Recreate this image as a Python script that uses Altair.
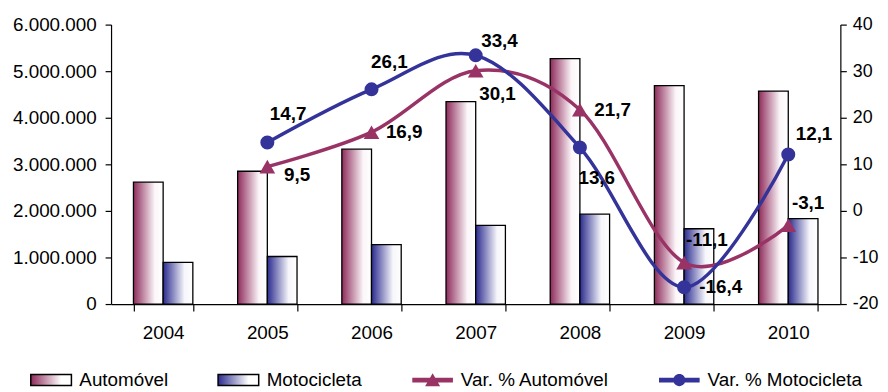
import altair as alt
import pandas as pd

# ---------------- data ----------------
anos = ["2004", "2005", "2006", "2007", "2008", "2009", "2010"]
automovel = [2617000, 2851000, 3326000, 4347000, 5270000, 4688000, 4574000]
motocicleta = [894000, 1021000, 1277000, 1688000, 1930000, 1617000, 1835000]
var_automovel = [None, 9.5, 16.9, 30.1, 21.7, -11.1, -3.1]
var_motocicleta = [None, 14.7, 26.1, 33.4, 13.6, -16.4, 12.1]

serie_bar = ["Automóvel", "Motocicleta"]
serie_var = ["Var. % Automóvel", "Var. % Motocicleta"]
legend_names = serie_bar + serie_var

y_left_ticks = [0, 1000000, 2000000, 3000000, 4000000, 5000000, 6000000]
y_right_ticks = [-20, -10, 0, 10, 20, 30, 40]

# ---------------- tables ----------------
bar_rows = []
for i, a in enumerate(anos):
    bar_rows.append({"ano": a, "serie": serie_bar[0], "valor": automovel[i]})
    bar_rows.append({"ano": a, "serie": serie_bar[1], "valor": motocicleta[i]})
df_bar = pd.DataFrame(bar_rows)

var_rows = []
for i, a in enumerate(anos):
    if var_automovel[i] is not None:
        var_rows.append({"ano": a, "serie": serie_var[0], "var": var_automovel[i]})
    if var_motocicleta[i] is not None:
        var_rows.append({"ano": a, "serie": serie_var[1], "var": var_motocicleta[i]})
df_var = pd.DataFrame(var_rows)

# ---------------- styles ----------------
MAROON = "#993366"
NAVY = "#333399"
FONT = "Liberation Sans"

grad_auto = {"gradient": "linear", "x1": 0, "y1": 0, "x2": 1, "y2": 0,
             "stops": [{"offset": 0, "color": "#8e2b5b"},
                       {"offset": 0.72, "color": "#fbf6f9"},
                       {"offset": 1, "color": "#ffffff"}]}
grad_moto = {"gradient": "linear", "x1": 0, "y1": 0, "x2": 1, "y2": 0,
             "stops": [{"offset": 0, "color": "#2b2b8f"},
                       {"offset": 0.72, "color": "#f6f6fb"},
                       {"offset": 1, "color": "#ffffff"}]}

x_axis = alt.Axis(title=None, labelAngle=0, tickBand="extent", tickSize=7,
                  labelPadding=13, labelFontSize=19, labelFont=FONT,
                  labelColor="black", domainColor="black", tickColor="black",
                  domainWidth=1.2, tickWidth=1.2, grid=False)
y_axis_left = alt.Axis(title=None, values=y_left_ticks, tickSize=6, labelPadding=9,
                       labelFontSize=19, labelFont=FONT, labelColor="black",
                       domainColor="black", tickColor="black", grid=False,
                       domainWidth=1.2, tickWidth=1.2,
                       labelExpr="replace(format(datum.value, ',d'), regexp(',', 'g'), '.')")
y_axis_right = alt.Axis(title=None, orient="right", values=y_right_ticks, tickSize=6,
                        labelPadding=6, labelFontSize=18, labelFont=FONT,
                        labelColor="black", domainColor="black", tickColor="black",
                        grid=False, domainWidth=1.2, tickWidth=1.2,
                        labelExpr="toString(datum.value)")

x_enc = alt.X("ano:N", scale=alt.Scale(paddingInner=0.43, paddingOuter=0.215), axis=x_axis)
y_left_enc = alt.Y("valor:Q", scale=alt.Scale(domain=[0, 6000000]), axis=y_axis_left)
y_right_enc = alt.Y("var:Q", scale=alt.Scale(domain=[-20, 40]), axis=y_axis_right)

# ---------------- bars ----------------
bars = alt.Chart(df_bar).mark_bar(stroke="black", strokeWidth=1.3).encode(
    x=x_enc,
    xOffset=alt.XOffset("serie:N", scale=alt.Scale(domain=serie_bar, paddingInner=0, paddingOuter=0)),
    y=y_left_enc,
    fill=alt.condition(alt.datum.serie == serie_bar[0], alt.value(grad_auto), alt.value(grad_moto)),
)

# legend (from a shape scale with one custom glyph per entry; layer draws no marks)
rect_path = "M-1,-0.27H1V0.27H-1Z"
tri_path = "M-1,-0.12H1V0.12H-1Z M-0.37,0.3L0,-0.34L0.37,0.3Z"
circ_path = ("M-1,-0.12H1V0.12H-1Z M-0.3,0A0.3,0.3 0 1,1 0.3,0"
             "A0.3,0.3 0 1,1 -0.3,0Z")

fill_expr = (
    "datum.index == 0 ? {gradient: 'linear', x1: 0, y1: 0, x2: 1, y2: 0, "
    "stops: [{offset: 0, color: '#8e2b5b'}, {offset: 0.75, color: '#ffffff'}]} : "
    "datum.index == 1 ? {gradient: 'linear', x1: 0, y1: 0, x2: 1, y2: 0, "
    "stops: [{offset: 0, color: '#2b2b8f'}, {offset: 0.75, color: '#ffffff'}]} : "
    "datum.index == 2 ? '" + MAROON + "' : '" + NAVY + "'"
)
stroke_expr = "datum.index < 2 ? 'black' : 'transparent'"

legend_layer = alt.Chart(df_bar).transform_filter("false").mark_point(
    filled=True, fill={"expr": fill_expr}, stroke={"expr": stroke_expr}, strokeWidth=1.2
).encode(
    x=x_enc,
    y=y_left_enc,
    shape=alt.Shape(
        "serie:N",
        scale=alt.Scale(domain=legend_names, range=[rect_path, rect_path, tri_path, circ_path]),
        legend=alt.Legend(
            title=None, orient="none", legendX=-82, legendY=337, direction="horizontal",
            symbolSize=1681, symbolOpacity=1,
            labelFontSize=19, labelFont=FONT, labelColor="black", labelOffset=7,
            columnPadding=47,
        ),
    ),
)

bars_group = alt.layer(bars, legend_layer)

# ---------------- lines ----------------
lines = alt.Chart(df_var).mark_line(interpolate="cardinal", strokeWidth=3.5).encode(
    x=x_enc,
    y=y_right_enc,
    color=alt.Color("serie:N", scale=alt.Scale(domain=serie_var, range=[MAROON, NAVY]), legend=None),
)

pts_auto = alt.Chart(df_var).transform_filter(alt.datum.serie == serie_var[0]).mark_point(
    shape="triangle-up", filled=True, size=250, color=MAROON, opacity=1
).encode(x=x_enc, y=y_right_enc)

pts_moto = alt.Chart(df_var).transform_filter(alt.datum.serie == serie_var[1]).mark_point(
    shape="circle", filled=True, size=200, color=NAVY, opacity=1
).encode(x=x_enc, y=y_right_enc)

label_offsets = {
    (serie_var[1], "2005"): (21, -29),
    (serie_var[0], "2005"): (30, 8),
    (serie_var[1], "2006"): (18, -28),
    (serie_var[0], "2006"): (33, 0),
    (serie_var[1], "2007"): (24, -14),
    (serie_var[0], "2007"): (22, 24),
    (serie_var[0], "2008"): (33, 0),
    (serie_var[1], "2008"): (17, 31),
    (serie_var[0], "2009"): (23, -23),
    (serie_var[1], "2009"): (37, 0),
    (serie_var[1], "2010"): (26, -21),
    (serie_var[0], "2010"): (20, -22),
}

label_layers = []
for (serie, ano), (dx, dy) in label_offsets.items():
    label_layers.append(
        alt.Chart(df_var)
        .transform_filter((alt.datum.serie == serie) & (alt.datum.ano == ano))
        .transform_calculate(lbl="replace(toString(datum.var), '.', ',')")
        .mark_text(dx=dx, dy=dy, align="center", baseline="middle", fontSize=19,
                   fontWeight="bold", font=FONT, color="black")
        .encode(x=x_enc, y=y_right_enc, text="lbl:N")
    )

lines_group = alt.layer(lines, pts_auto, pts_moto, *label_layers)

chart = (
    alt.layer(bars_group, lines_group)
    .resolve_scale(y="independent")
    .properties(width=736, height=282,
                padding={"left": 104, "top": 15, "right": 40, "bottom": 87},
                autosize=alt.AutoSizeParams(type="none"))
    .configure_view(stroke=None)
)

chart.save("out.html", embed_options={"renderer": "svg", "actions": False})
